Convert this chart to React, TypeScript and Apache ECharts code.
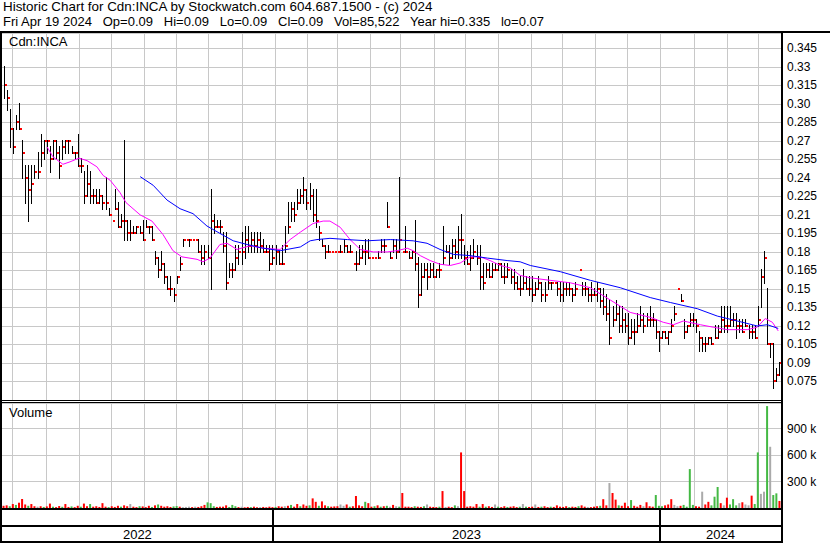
import React, { useEffect, useRef } from "react";
import * as echarts from "echarts";

// ---- data (each slot ~ 2 trading days, Apr 2022 -> Apr 19 2024) ----
const highs = [
  0.33, 0.31, 0.295, 0.28, 0.29, 0.3, 0.27, 0.25, 0.25, 0.25,
  0.25, 0.26, 0.275, 0.27, 0.27, 0.265, 0.27, 0.27, 0.265, 0.27,
  0.27, 0.27, 0.265, 0.26, 0.275, 0.255, 0.245, 0.25, 0.245, 0.23,
  0.23, 0.23, 0.225, 0.24, 0.215, 0.205, 0.23, 0.22, 0.21, 0.27,
  0.205, 0.205, 0.2, 0.2, 0.2, 0.205, 0.205, 0.2, 0.2, 0.18,
  0.175, 0.18, 0.17, 0.16, 0.16, 0.15, 0.16, 0.175, 0.19, 0.19,
  0.19, 0.19, 0.19, 0.19, 0.185, 0.185, 0.185, 0.23, 0.21, 0.205,
  0.205, 0.195, 0.195, 0.17, 0.17, 0.185, 0.185, 0.195, 0.2, 0.2,
  0.195, 0.195, 0.195, 0.195, 0.19, 0.185, 0.185, 0.185, 0.185, 0.18,
  0.185, 0.2, 0.22, 0.22, 0.22, 0.23, 0.23, 0.24, 0.23, 0.235,
  0.23, 0.23, 0.2, 0.19, 0.185, 0.185, 0.18, 0.18, 0.18, 0.185,
  0.19, 0.185, 0.185, 0.17, 0.18, 0.185, 0.185, 0.19, 0.19, 0.175,
  0.175, 0.18, 0.19, 0.19, 0.22, 0.18, 0.19, 0.19, 0.24, 0.18,
  0.2, 0.18, 0.18, 0.205, 0.175, 0.17, 0.17, 0.17, 0.17, 0.17,
  0.165, 0.17, 0.2, 0.185, 0.185, 0.19, 0.19, 0.2, 0.21, 0.185,
  0.18, 0.185, 0.19, 0.185, 0.185, 0.17, 0.17, 0.17, 0.17, 0.17,
  0.17, 0.17, 0.17, 0.17, 0.165, 0.165, 0.16, 0.16, 0.165, 0.16,
  0.16, 0.16, 0.155, 0.16, 0.155, 0.155, 0.16, 0.155, 0.155, 0.155,
  0.155, 0.155, 0.155, 0.155, 0.15, 0.155, 0.165, 0.155, 0.155, 0.15,
  0.155, 0.15, 0.155, 0.15, 0.15, 0.145, 0.14, 0.135, 0.14, 0.135,
  0.135, 0.13, 0.13, 0.125, 0.125, 0.13, 0.135, 0.13, 0.13, 0.135,
  0.13, 0.125, 0.115, 0.115, 0.115, 0.115, 0.125, 0.135, 0.15, 0.145,
  0.125, 0.12, 0.13, 0.13, 0.125, 0.115, 0.11, 0.11, 0.11, 0.11,
  0.12, 0.12, 0.135, 0.135, 0.135, 0.135, 0.13, 0.13, 0.125, 0.125,
  0.125, 0.12, 0.12, 0.12, 0.135, 0.165, 0.18, 0.15, 0.105, 0.105,
  0.085, 0.09,
];
const lows = [
  0.305, 0.295, 0.265, 0.26, 0.28, 0.28, 0.24, 0.22, 0.205, 0.22,
  0.24, 0.24, 0.25, 0.255, 0.26, 0.245, 0.255, 0.255, 0.24, 0.255,
  0.26, 0.26, 0.26, 0.255, 0.25, 0.245, 0.22, 0.225, 0.22, 0.22,
  0.22, 0.22, 0.215, 0.215, 0.21, 0.205, 0.215, 0.2, 0.2, 0.19,
  0.19, 0.19, 0.195, 0.195, 0.195, 0.19, 0.2, 0.195, 0.19, 0.17,
  0.16, 0.165, 0.155, 0.15, 0.145, 0.14, 0.155, 0.165, 0.185, 0.19,
  0.185, 0.19, 0.19, 0.18, 0.17, 0.17, 0.175, 0.15, 0.195, 0.2,
  0.195, 0.18, 0.15, 0.16, 0.16, 0.165, 0.17, 0.17, 0.175, 0.18,
  0.18, 0.18, 0.18, 0.18, 0.18, 0.18, 0.165, 0.17, 0.17, 0.17,
  0.17, 0.18, 0.195, 0.205, 0.205, 0.215, 0.22, 0.22, 0.215, 0.215,
  0.205, 0.2, 0.19, 0.185, 0.175, 0.18, 0.18, 0.18, 0.18, 0.18,
  0.18, 0.18, 0.18, 0.17, 0.165, 0.17, 0.175, 0.17, 0.175, 0.175,
  0.175, 0.175, 0.18, 0.18, 0.2, 0.175, 0.18, 0.175, 0.18, 0.18,
  0.18, 0.175, 0.175, 0.165, 0.135, 0.145, 0.16, 0.15, 0.16, 0.16,
  0.16, 0.16, 0.17, 0.18, 0.17, 0.175, 0.175, 0.175, 0.175, 0.17,
  0.17, 0.165, 0.175, 0.17, 0.15, 0.15, 0.16, 0.16, 0.16, 0.165,
  0.165, 0.16, 0.155, 0.16, 0.155, 0.15, 0.15, 0.145, 0.15, 0.15,
  0.145, 0.14, 0.145, 0.15, 0.14, 0.14, 0.15, 0.15, 0.155, 0.145,
  0.14, 0.14, 0.145, 0.145, 0.14, 0.145, 0.165, 0.145, 0.145, 0.14,
  0.14, 0.145, 0.14, 0.135, 0.13, 0.125, 0.105, 0.12, 0.125, 0.115,
  0.115, 0.115, 0.105, 0.11, 0.105, 0.115, 0.12, 0.115, 0.12, 0.12,
  0.12, 0.11, 0.1, 0.11, 0.11, 0.105, 0.115, 0.125, 0.15, 0.14,
  0.11, 0.115, 0.12, 0.12, 0.115, 0.1, 0.1, 0.1, 0.105, 0.105,
  0.11, 0.11, 0.115, 0.115, 0.115, 0.12, 0.12, 0.11, 0.115, 0.115,
  0.12, 0.11, 0.11, 0.11, 0.12, 0.135, 0.155, 0.105, 0.095, 0.07,
  0.075, 0.08,
];
const closes = [
  0.315, 0.305, 0.28, 0.265, 0.285, 0.28, 0.26, 0.24, 0.23, 0.235,
  0.245, 0.245, 0.26, 0.27, 0.27, 0.255, 0.27, 0.26, 0.25, 0.265,
  0.27, 0.27, 0.26, 0.26, 0.25, 0.25, 0.225, 0.235, 0.225, 0.225,
  0.22, 0.225, 0.22, 0.22, 0.21, 0.205, 0.215, 0.2, 0.205, 0.205,
  0.195, 0.195, 0.195, 0.2, 0.195, 0.19, 0.2, 0.2, 0.19, 0.175,
  0.165, 0.17, 0.16, 0.15, 0.15, 0.145, 0.16, 0.17, 0.19, 0.19,
  0.19, 0.19, 0.19, 0.18, 0.175, 0.18, 0.175, 0.205, 0.2, 0.2,
  0.2, 0.185, 0.155, 0.165, 0.165, 0.175, 0.18, 0.18, 0.19, 0.185,
  0.19, 0.185, 0.19, 0.185, 0.18, 0.18, 0.17, 0.175, 0.18, 0.17,
  0.17, 0.185, 0.2, 0.215, 0.21, 0.22, 0.225, 0.23, 0.22, 0.225,
  0.21, 0.205, 0.195, 0.185, 0.18, 0.18, 0.18, 0.18, 0.18, 0.18,
  0.185, 0.18, 0.18, 0.17, 0.17, 0.175, 0.18, 0.18, 0.175, 0.175,
  0.175, 0.175, 0.185, 0.185, 0.2, 0.175, 0.185, 0.18, 0.19, 0.18,
  0.18, 0.175, 0.18, 0.17, 0.145, 0.16, 0.165, 0.16, 0.165, 0.16,
  0.165, 0.165, 0.175, 0.18, 0.175, 0.185, 0.18, 0.19, 0.19, 0.175,
  0.17, 0.175, 0.18, 0.175, 0.16, 0.155, 0.165, 0.16, 0.165, 0.165,
  0.17, 0.16, 0.16, 0.165, 0.16, 0.155, 0.15, 0.15, 0.155, 0.15,
  0.15, 0.145, 0.15, 0.155, 0.145, 0.145, 0.155, 0.155, 0.155, 0.15,
  0.145, 0.15, 0.15, 0.15, 0.145, 0.15, 0.165, 0.15, 0.15, 0.145,
  0.145, 0.145, 0.15, 0.14, 0.135, 0.13, 0.11, 0.125, 0.13, 0.12,
  0.125, 0.12, 0.11, 0.115, 0.115, 0.12, 0.125, 0.12, 0.125, 0.125,
  0.125, 0.115, 0.11, 0.115, 0.11, 0.115, 0.12, 0.13, 0.15, 0.14,
  0.115, 0.12, 0.125, 0.125, 0.12, 0.11, 0.105, 0.105, 0.11, 0.105,
  0.11, 0.115, 0.125, 0.12, 0.12, 0.125, 0.125, 0.12, 0.12, 0.115,
  0.12, 0.115, 0.115, 0.11, 0.125, 0.16, 0.175, 0.105, 0.105, 0.075,
  0.08, 0.09,
];
// volume in thousands of shares
const volumes = [
  25, 30, 20, 45, 35, 60, 102, 40, 25, 45,
  20, 15, 20, 12, 18, 50, 15, 10, 22, 14,
  45, 12, 18, 10, 25, 15, 50, 20, 45, 15,
  20, 12, 55, 15, 10, 20, 12, 25, 15, 30,
  20, 45, 15, 10, 20, 18, 10, 25, 12, 30,
  40, 25, 15, 20, 12, 18, 22, 15, 10, 12,
  15, 10, 15, 12, 20, 35, 64, 55, 20, 12,
  15, 15, 30, 12, 35, 20, 10, 15, 8, 12,
  10, 15, 8, 10, 12, 8, 15, 10, 12, 20,
  15, 20, 25, 35, 15, 45, 20, 40, 25, 30,
  109, 70, 25, 75, 30, 20, 15, 18, 20, 40,
  25, 40, 15, 20, 136, 30, 20, 70, 55, 15,
  20, 30, 15, 20, 25, 15, 35, 20, 15, 170,
  15, 15, 10, 20, 15, 12, 20, 40, 15, 12,
  10, 15, 192, 12, 15, 10, 30, 20, 630, 192,
  15, 20, 15, 45, 15, 45, 15, 20, 12, 40,
  15, 10, 20, 12, 15, 20, 10, 15, 45, 15,
  12, 15, 40, 12, 15, 20, 10, 15, 12, 30,
  15, 12, 20, 10, 15, 12, 20, 30, 15, 12,
  10, 15, 20, 25, 100, 30, 283, 170, 95, 30,
  25, 60, 20, 90, 25, 15, 35, 20, 65, 20,
  15, 147, 25, 20, 30, 40, 100, 35, 20, 25,
  35, 15, 441, 35, 20, 15, 185, 40, 70, 30,
  128, 238, 55, 30, 117, 40, 100, 30, 55, 65,
  40, 30, 140, 45, 630, 160, 185, 1155, 694, 147,
  166, 80,
];
// r = down day, g = up day, n = unchanged
const volumeColors = (
  "rrgrgrrrgr" + "rnrgrrgrrg" + "rrgrrgrrgr" + "rrrrgrrrgr" + "rnrrgrrrgr" +
  "grrrrggrnn" + "nrnrrrggg" + "rr" + "rrgggrnrrg" + "rrnrrrrgrr" +
  "nrgrrgrrgr" + "rgrrgrrrnn" + "rgrrrrgrrg" + "rgrgnrngrr" + "rrgrrgnrrr" +
  "grnrrgnrrr" + "rrrgrgrrng" + "rrgrrrgngr" + "rnrgrrgrrr" + "rrgrrgrrnr" +
  "rrgrrnrrgr" + "rrgrrrnrrr" + "gggrrrnnrg" + "gggrrnrrgg" + "grnrgggnr" + "nnr" +
  "gg" + "nngnggrrgn" + "gnrrggngg" + "grrgg"
).split("");

// moving averages: [slot, price]
const maFast = [
  [14.1, 0.265], [16, 0.257], [19.2, 0.251], [21.5, 0.253], [24.4, 0.256], [27, 0.254],
  [30.2, 0.249], [32.2, 0.242], [34.5, 0.238], [37.7, 0.228], [39.6, 0.22], [44.2, 0.21],
  [48, 0.205], [51.6, 0.194], [54.8, 0.181], [57.7, 0.176], [62.6, 0.174], [64.5, 0.172],
  [66.8, 0.175], [70, 0.186], [72.3, 0.187], [75.5, 0.182], [79.8, 0.185], [84, 0.183],
  [89.5, 0.182], [92.7, 0.19], [96, 0.196], [100.1, 0.203], [103.4, 0.205], [105.6, 0.205],
  [108.9, 0.2], [112.1, 0.19], [115.4, 0.182], [119.6, 0.18], [124.1, 0.18], [127.3, 0.181],
  [130.6, 0.183], [132.5, 0.181], [134.8, 0.177], [138, 0.173], [141.2, 0.17], [144.5, 0.169],
  [147.7, 0.171], [151, 0.176], [154.2, 0.176], [157.4, 0.173], [160.7, 0.169], [163.9, 0.167],
  [167.1, 0.161], [170.4, 0.159], [176.8, 0.157], [183.3, 0.155], [189.8, 0.151], [196.3, 0.141],
  [202.7, 0.131], [209.2, 0.127], [213.4, 0.123], [216.7, 0.121], [219.9, 0.124], [225.4, 0.121],
  [229.6, 0.119], [234.1, 0.117], [240.6, 0.117], [243.8, 0.119], [246.4, 0.126], [248.7, 0.123],
  [250.6, 0.116],
];
const maSlow = [
  [44.2, 0.241], [48.4, 0.234], [52.9, 0.222], [57.1, 0.215], [61.3, 0.211], [65.8, 0.201],
  [70, 0.195], [74.3, 0.189], [78.8, 0.186], [84, 0.183], [89.5, 0.181], [96, 0.184],
  [99.2, 0.189], [101.4, 0.19], [105.6, 0.191], [111.2, 0.19], [117.6, 0.189], [125.1, 0.19],
  [132.5, 0.189], [137, 0.187], [141.2, 0.182], [145.5, 0.178], [151, 0.177], [156.5, 0.175],
  [162.9, 0.173], [167.1, 0.172], [170.4, 0.169], [180.1, 0.164], [189.8, 0.157], [199.5, 0.151],
  [209.2, 0.143], [215.7, 0.139], [224.4, 0.134], [230.9, 0.128], [237.4, 0.124], [243.8, 0.12],
  [247.1, 0.121], [250.6, 0.118],
];

const monthStarts = [
  2.7, 13.7, 24.4, 34.8, 45.5, 55.8, 66.2, 77.2, 87.9, 98.1, 107.8, 118.4,
  128.3, 139.3, 149.3, 159.8, 170.7, 180.7, 191.4, 201.8, 212.4, 223.4, 234.1, 244.2,
];
const yearLabels = ["2022", "2023", "2024"];
const yearStarts = [-0.5, 87.1, 212.4];
const xEnd = 251.5;

const priceTicks = { min: 0.06, max: 0.3574, step: 0.015 };
const volTicks = { min: 0, max: 1190000, step: 300000 };

const headerLine1 = "Historic Chart for Cdn:INCA by Stockwatch.com 604.687.1500 - (c) 2024";
const headerLine2 = [
  "Fri Apr 19 2024", "Op=0.09", "Hi=0.09", "Lo=0.09", "Cl=0.09",
  "Vol=85,522", "Year hi=0.335", "lo=0.07",
].join("\u00a0\u00a0 ");

const FONT = '"Liberation Sans", Arial, Helvetica, sans-serif';
const GRID_COLOR = "#c8c8c8";

function fmtPrice(v: number) {
  let s = v.toFixed(3);
  if (s.endsWith("0")) s = s.slice(0, -1);
  return s;
}

function buildOption() {
  const ohlc = highs.map((h, i) => [i, h, lows[i], closes[i]]);
  const colorMap: Record<string, string> = { r: "#ff0000", g: "#44b944", n: "#aaaaaa" };
  const volData = volumes.map((v, i) => ({
    value: [i, v * 1000],
    itemStyle: { color: colorMap[volumeColors[i]] || "#ff0000" },
  }));
  const yearData = yearLabels.map((y, k) => [yearStarts[k], k + 1 < yearStarts.length ? yearStarts[k + 1] : xEnd, k]);

  const xAxisBase = { type: "value", min: -0.5, max: xEnd, show: false };
  const monthLineRender = (params: any, api: any) => {
    const cs = params.coordSys;
    const x = Math.round(api.coord([api.value(0), 0])[0]) + 0.5;
    return {
      type: "line",
      shape: { x1: x, y1: cs.y, x2: x, y2: cs.y + cs.height },
      style: { stroke: GRID_COLOR, lineWidth: 1 },
      silent: true,
    };
  };

  return {
    animation: false,
    backgroundColor: "#ffffff",
    grid: [
      { left: 2, top: 33, width: 779, height: 367 },
      { left: 2, top: 403, width: 779, height: 105 },
      { left: 2, top: 510, width: 779, height: 31 },
    ],
    xAxis: [
      { ...xAxisBase, gridIndex: 0 },
      { ...xAxisBase, gridIndex: 1 },
      { ...xAxisBase, gridIndex: 2 },
    ],
    yAxis: [
      {
        type: "value", gridIndex: 0, position: "right",
        min: priceTicks.min, max: priceTicks.max, interval: priceTicks.step,
        axisLine: { show: false }, axisTick: { show: false },
        axisLabel: {
          show: true, margin: 6, color: "#000", fontSize: 12, fontFamily: FONT,
          showMinLabel: false, showMaxLabel: false, formatter: (v: number) => fmtPrice(v),
        },
        splitLine: { show: true, lineStyle: { color: GRID_COLOR, width: 1 } },
      },
      {
        type: "value", gridIndex: 1, position: "right",
        min: volTicks.min, max: volTicks.max, interval: volTicks.step,
        axisLine: { show: false }, axisTick: { show: false },
        axisLabel: {
          show: true, margin: 6, color: "#000", fontSize: 12, fontFamily: FONT,
          showMinLabel: false, showMaxLabel: false, formatter: (v: number) => v / 1000 + " k",
        },
        splitLine: { show: true, lineStyle: { color: GRID_COLOR, width: 1 } },
      },
      { type: "value", gridIndex: 2, min: 0, max: 1, show: false },
    ],
    series: [
      {
        type: "custom", xAxisIndex: 0, yAxisIndex: 0, z: 1, silent: true,
        data: monthStarts.map((m) => [m]), encode: { x: 0 },
        renderItem: monthLineRender,
      },
      {
        type: "custom", xAxisIndex: 1, yAxisIndex: 1, z: 1, silent: true,
        data: monthStarts.map((m) => [m]), encode: { x: 0 },
        renderItem: monthLineRender,
      },
      {
        type: "custom", name: "Price range", xAxisIndex: 0, yAxisIndex: 0, z: 3, clip: true,
        data: ohlc, encode: { x: 0, y: [1, 2, 3] },
        renderItem: (params: any, api: any) => {
          const i = api.value(0);
          const pH = api.coord([i, api.value(1)]);
          const pL = api.coord([i, api.value(2)]);
          const x = Math.round(pH[0]);
          const top = Math.round(pH[1]);
          const bot = Math.round(pL[1]);
          if (bot - top < 1) return null;
          return {
            type: "rect",
            shape: { x: x, y: top - 1, width: 1, height: bot - top + 2 },
            style: { fill: "#000000" },
          };
        },
      },
      {
        type: "custom", name: "Close", xAxisIndex: 0, yAxisIndex: 0, z: 4, clip: true,
        data: ohlc, encode: { x: 0, y: 3 },
        renderItem: (params: any, api: any) => {
          const i = api.value(0);
          const pC = api.coord([i, api.value(3)]);
          const x = Math.round(pC[0]);
          return {
            type: "rect",
            shape: { x: x + 1, y: Math.round(pC[1]) - 1, width: 2, height: 2 },
            style: { fill: "#ff0000" },
          };
        },
      },
      {
        type: "line", name: "MA fast", xAxisIndex: 0, yAxisIndex: 0, z: 5,
        data: maFast, showSymbol: false, symbol: "none",
        lineStyle: { color: "#ff00ff", width: 1 },
      },
      {
        type: "line", name: "MA slow", xAxisIndex: 0, yAxisIndex: 0, z: 5,
        data: maSlow, showSymbol: false, symbol: "none",
        lineStyle: { color: "#0000ff", width: 1 },
      },
      {
        type: "bar", name: "Volume", xAxisIndex: 1, yAxisIndex: 1, z: 3,
        barWidth: 2, data: volData,
      },
      {
        type: "custom", name: "Years", xAxisIndex: 2, yAxisIndex: 2, z: 5,
        data: yearData, encode: { x: [0, 1] },
        renderItem: (params: any, api: any) => {
          const cs = params.coordSys;
          const x1 = api.coord([api.value(0), 0])[0];
          const x2 = api.coord([api.value(1), 0])[0];
          const k = api.value(2);
          const children: any[] = [
            {
              type: "text",
              style: {
                text: yearLabels[k], x: (x1 + x2) / 2, y: cs.y + cs.height - 7,
                align: "center", verticalAlign: "middle",
                font: `13px ${FONT}`, fill: "#000",
              },
            },
          ];
          if (k < yearLabels.length - 1) {
            const xr = Math.round(x2);
            children.push({
              type: "rect",
              shape: { x: xr - 1, y: cs.y, width: 2, height: cs.height },
              style: { fill: "#000" },
            });
          }
          return { type: "group", children };
        },
      },
    ],
    graphic: [
      { type: "text", x: 3, y: 0, z: 10, style: { text: headerLine1, font: `13.4px ${FONT}`, fill: "#000", verticalAlign: "top" } },
      { type: "text", x: 3, y: 15, z: 10, style: { text: headerLine2, font: `13px ${FONT}`, fill: "#000", verticalAlign: "top" } },
      { type: "text", x: 9, y: 35, z: 10, style: { text: "Cdn:INCA", font: `13px ${FONT}`, fill: "#000", verticalAlign: "top" } },
      { type: "text", x: 9, y: 406, z: 10, style: { text: "Volume", font: `13px ${FONT}`, fill: "#000", verticalAlign: "top" } },
      { type: "rect", z: 10, shape: { x: 0, y: 31, width: 830, height: 2 }, style: { fill: "#000" } },
      { type: "rect", z: 10, shape: { x: 0, y: 31, width: 2, height: 512 }, style: { fill: "#000" } },
      { type: "rect", z: 10, shape: { x: 781, y: 31, width: 2, height: 512 }, style: { fill: "#000" } },
      { type: "rect", z: 10, shape: { x: 0, y: 400, width: 783, height: 1 }, style: { fill: "#000" } },
      { type: "rect", z: 10, shape: { x: 0, y: 402, width: 783, height: 1 }, style: { fill: "#000" } },
      { type: "rect", z: 10, shape: { x: 0, y: 508, width: 783, height: 2 }, style: { fill: "#000" } },
      { type: "rect", z: 10, shape: { x: 0, y: 525, width: 783, height: 2 }, style: { fill: "#000" } },
      { type: "rect", z: 10, shape: { x: 0, y: 541, width: 783, height: 2 }, style: { fill: "#000" } },
    ],
  };
}

export default function App() {
  const ref = useRef<HTMLDivElement>(null);
  useEffect(() => {
    if (!ref.current) return;
    const chart = echarts.init(ref.current, null, { renderer: "svg" });
    chart.setOption(buildOption() as any);
    return () => chart.dispose();
  }, []);
  return (
    <div
      ref={ref}
      style={{ position: "fixed", left: 0, top: 0, width: 830, height: 543, background: "#fff" }}
    />
  );
}
